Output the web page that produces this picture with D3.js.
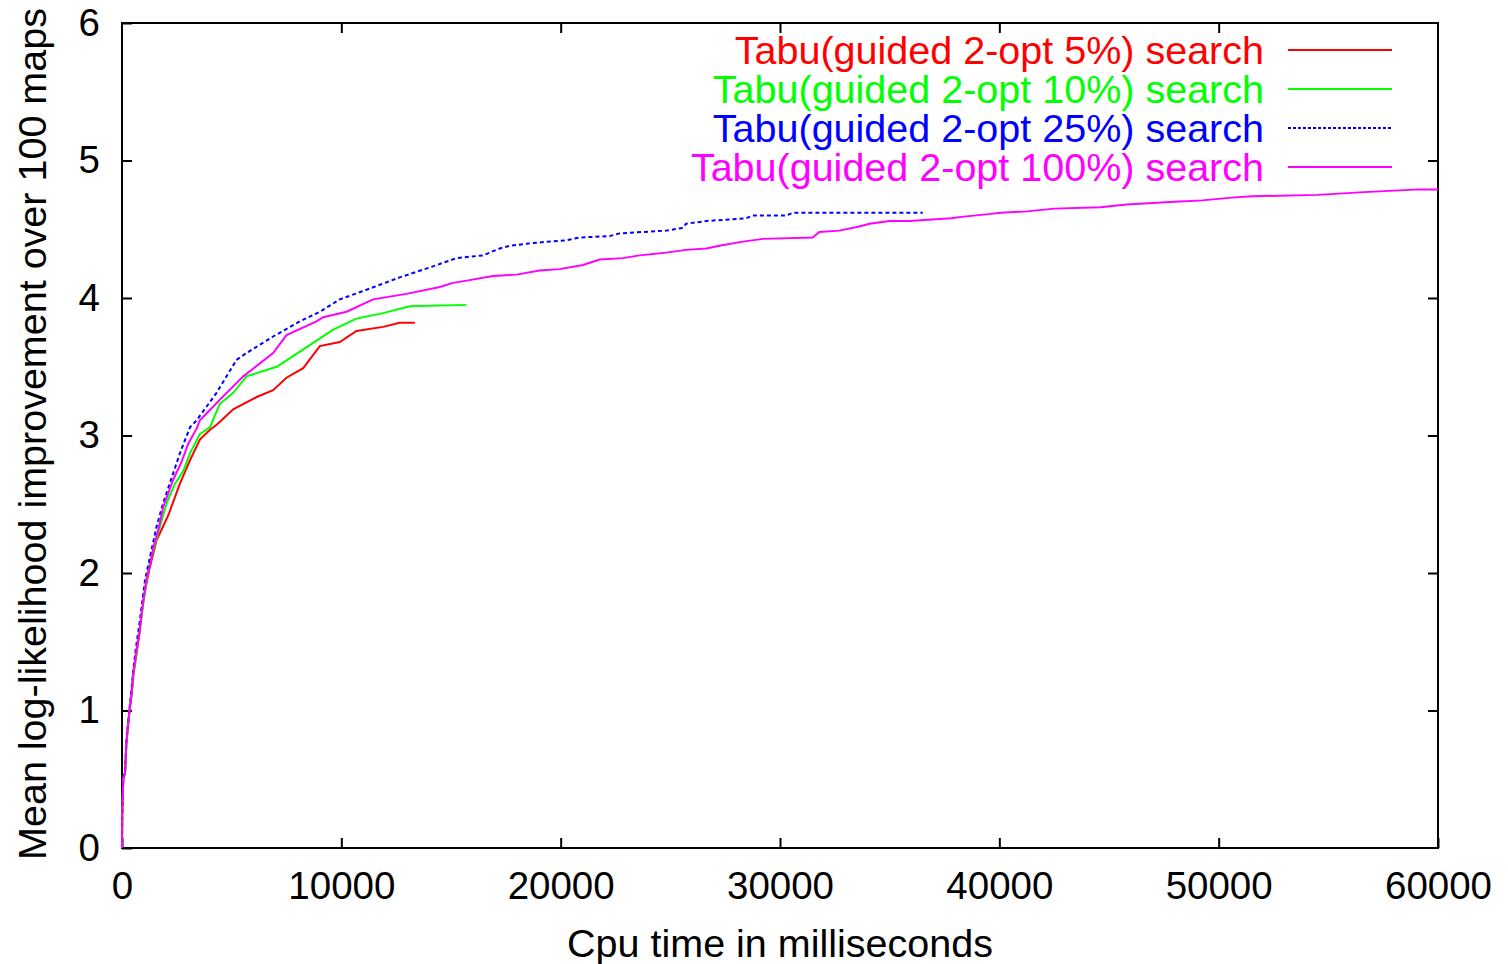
<!DOCTYPE html>
<html>
<head>
<meta charset="utf-8">
<script src="https://cdn.jsdelivr.net/npm/d3@7"></script>
<style>
  body { margin: 0; background: #fff; }
  svg { display: block; }
  text { font-family: "Liberation Sans", Arial, sans-serif; }
</style>
</head>
<body>
<svg id="chart" width="1508" height="964"></svg>
<script>
// values: [cpu time ms, mean log-likelihood improvement]
var guided5 = [[0,0],[10,0.24],[60,0.51],[140,0.54],[200,0.76],[320,0.96],[440,1.12],[520,1.26],[760,1.52],[1000,1.83],[1250,2.03],[1580,2.24],[2110,2.42],[2640,2.65],[3100,2.82],[3550,2.97],[4000,3.04],[4330,3.08],[5070,3.19],[6140,3.28],[6890,3.33],[7500,3.42],[8260,3.49],[9020,3.65],[9930,3.68],[10690,3.76],[11900,3.79],[12660,3.82],[13350,3.82]];

var guided10 = [[0,0],[10,0.24],[60,0.52],[140,0.55],[200,0.77],[320,0.97],[440,1.13],[520,1.27],[745,1.53],[900,1.70],[1200,2.03],[1500,2.21],[2040,2.51],[2415,2.65],[2790,2.74],[3100,2.87],[3550,3.01],[4010,3.06],[4460,3.23],[5070,3.31],[5680,3.43],[7050,3.50],[8110,3.61],[8870,3.69],[9630,3.77],[10690,3.85],[11900,3.89],[13120,3.94],[15700,3.95]];

var guided25 = [[0,0],[10,0.24],[60,0.52],[140,0.56],[200,0.78],[320,0.98],[430,1.15],[510,1.29],[630,1.45],[820,1.66],[1050,1.95],[1350,2.17],[1580,2.34],[1880,2.51],[2260,2.69],[2640,2.87],[3100,3.06],[3400,3.11],[4310,3.31],[5220,3.55],[5680,3.60],[6890,3.72],[8110,3.83],[9020,3.90],[9930,3.99],[11150,4.06],[12660,4.15],[14180,4.23],[15250,4.29],[16460,4.31],[17220,4.36],[17680,4.38],[18740,4.40],[20260,4.42],[20870,4.44],[22230,4.45],[22690,4.47],[24810,4.49],[25570,4.51],[25720,4.54],[26640,4.56],[28460,4.58],[28760,4.60],[30280,4.60],[30590,4.62],[36510,4.62]];

var guided100 = [[0,0],[10,0.24],[60,0.5],[140,0.55],[200,0.77],[320,0.97],[440,1.13],[515,1.27],[640,1.42],[790,1.56],[895,1.71],[1020,1.85],[1130,1.97],[1275,2.05],[1430,2.19],[1650,2.31],[1880,2.48],[2040,2.55],[2340,2.68],[2720,2.81],[3020,2.94],[3400,3.05],[3550,3.11],[4460,3.26],[5530,3.43],[6890,3.60],[7500,3.73],[8870,3.83],[9170,3.86],[10240,3.90],[11450,3.99],[12970,4.03],[14490,4.08],[15090,4.11],[15850,4.13],[16910,4.16],[17980,4.17],[19040,4.20],[19950,4.21],[21020,4.24],[21780,4.28],[22840,4.29],[23600,4.31],[24810,4.33],[25720,4.35],[26640,4.36],[27240,4.38],[28310,4.41],[29220,4.43],[31490,4.44],[31790,4.48],[32700,4.49],[33610,4.52],[34080,4.54],[34990,4.56],[35910,4.56],[37800,4.58],[38270,4.59],[39520,4.61],[40070,4.62],[41250,4.63],[42500,4.65],[44620,4.66],[45800,4.68],[48000,4.70],[49250,4.71],[50590,4.73],[51530,4.74],[54510,4.75],[56630,4.77],[59140,4.79],[60000,4.79]];

var seriesNames = ["Tabu(guided 2-opt 5%) search", "Tabu(guided 2-opt 10%) search",
                   "Tabu(guided 2-opt 25%) search", "Tabu(guided 2-opt 100%) search"];
var seriesColors = ["#ff0000", "#00ff00", "#0000ff", "#ff00ff"];
var seriesData = [guided5, guided10, guided25, guided100];

var xTicks = [0, 10000, 20000, 30000, 40000, 50000, 60000];
var yTicks = [0, 1, 2, 3, 4, 5, 6];

var svg = d3.select("#chart"),
    margin = {top: 23, right: 70, bottom: 116, left: 122},
    width = +svg.attr("width") - margin.left - margin.right,
    height = +svg.attr("height") - margin.top - margin.bottom;

var g = svg.append("g").attr("transform", "translate(" + margin.left + "," + margin.top + ")");

var x = d3.scaleLinear().domain([0, 60000]).range([0, width]);
var y = d3.scaleLinear().domain([0, 6]).range([height, 0]);

var fs = 39.5, tickFs = 38.5, tickLen = 10;

// axes: gnuplot style, ticks inward on all four sides
function styleAxis(sel) {
  sel.select(".domain").remove();
  sel.selectAll(".tick line").attr("stroke", "#000").attr("stroke-width", 2);
  sel.selectAll(".tick text").attr("fill", "#000").style("font-size", tickFs + "px");
}

g.append("g").attr("transform", "translate(0," + height + ")")
  .call(d3.axisBottom(x).tickValues(xTicks).tickFormat(d3.format("d")).tickSize(-tickLen).tickPadding(24))
  .call(styleAxis);
g.append("g")
  .call(d3.axisTop(x).tickValues(xTicks.slice(1, -1)).tickFormat("").tickSize(-tickLen))
  .call(styleAxis);
g.append("g")
  .call(d3.axisLeft(y).tickValues(yTicks).tickFormat(d3.format("d")).tickSize(-tickLen).tickPadding(22))
  .call(styleAxis);
g.append("g").attr("transform", "translate(" + width + ",0)")
  .call(d3.axisRight(y).tickValues(yTicks.slice(1, -1)).tickFormat("").tickSize(-tickLen))
  .call(styleAxis);

g.append("rect")
  .attr("width", width).attr("height", height)
  .attr("fill", "none").attr("stroke", "#000").attr("stroke-width", 2);

// curves
var line = d3.line().x(function(d) { return x(d[0]); }).y(function(d) { return y(d[1]); });

seriesData.forEach(function(data, i) {
  g.append("path")
    .datum(data)
    .attr("fill", "none")
    .attr("stroke", seriesColors[i])
    .attr("stroke-width", 2)
    .attr("stroke-dasharray", i === 2 ? "4,3" : null)
    .attr("d", line);
});

// legend
var legend = g.append("g").attr("transform", "translate(" + (width - 46) + ",27)");
seriesNames.forEach(function(name, i) {
  var row = legend.append("g").attr("transform", "translate(0," + (i * 39) + ")");
  row.append("text")
    .attr("x", -128).attr("y", 0).attr("dy", "0.35em")
    .attr("text-anchor", "end")
    .attr("fill", seriesColors[i])
    .style("font-size", fs + "px")
    .text(name);
  row.append("line")
    .attr("x1", -104).attr("x2", 0)
    .attr("stroke", seriesColors[i])
    .attr("stroke-width", 2)
    .attr("stroke-dasharray", i === 2 ? "3,2" : null);
});

// axis titles
svg.append("text")
  .attr("x", margin.left + width / 2).attr("y", 957)
  .attr("text-anchor", "middle")
  .style("font-size", fs + "px")
  .text("Cpu time in milliseconds");

svg.append("text")
  .attr("transform", "translate(46,434) rotate(-90)")
  .attr("text-anchor", "middle")
  .style("font-size", fs + "px")
  .text("Mean log-likelihood improvement over 100 maps");
</script>
</body>
</html>
